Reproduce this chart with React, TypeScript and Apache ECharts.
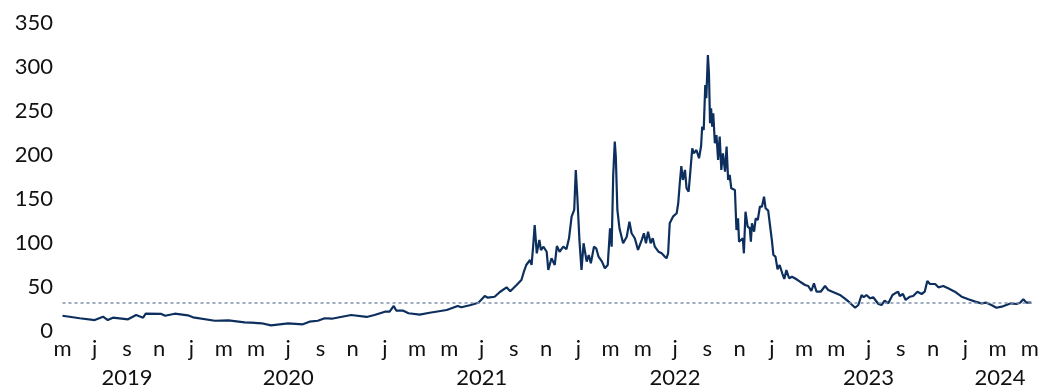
import React, { useEffect, useRef } from "react";
import * as echarts from "echarts";

const dates: string[] = [
  "2019-05-01","2019-06-03","2019-07-01","2019-07-17","2019-07-26","2019-08-05","2019-09-03","2019-09-18","2019-10-01","2019-10-06",
  "2019-11-05","2019-11-12","2019-11-30","2019-12-25","2020-01-04","2020-02-14","2020-03-10","2020-04-10","2020-05-12","2020-05-30",
  "2020-07-01","2020-07-29","2020-08-11","2020-08-27","2020-09-09","2020-09-22","2020-10-29","2020-11-27","2020-12-12","2021-01-01",
  "2021-01-10","2021-01-18","2021-01-23","2021-02-05","2021-02-14","2021-03-06","2021-03-25","2021-04-26","2021-05-17","2021-05-24",
  "2021-06-09","2021-06-25","2021-07-07","2021-07-13","2021-07-26","2021-08-05","2021-08-18","2021-08-25","2021-09-06","2021-09-15",
  "2021-09-19","2021-09-24","2021-10-01","2021-10-04","2021-10-07","2021-10-10","2021-10-14","2021-10-19","2021-10-22","2021-10-27",
  "2021-11-02","2021-11-05","2021-11-11","2021-11-17","2021-11-21","2021-11-26","2021-12-03","2021-12-09","2021-12-14","2021-12-19",
  "2021-12-24","2021-12-27","2021-12-30","2022-01-03","2022-01-07","2022-01-11","2022-01-17","2022-01-21","2022-01-25","2022-01-31",
  "2022-02-04","2022-02-08","2022-02-14","2022-02-19","2022-02-24","2022-02-28","2022-03-03","2022-03-06","2022-03-09","2022-03-11",
  "2022-03-14","2022-03-18","2022-03-25","2022-04-01","2022-04-06","2022-04-10","2022-04-16","2022-04-22","2022-04-29","2022-05-03",
  "2022-05-07","2022-05-11","2022-05-16","2022-05-20","2022-05-24","2022-05-31","2022-06-06","2022-06-12","2022-06-15","2022-06-18",
  "2022-06-21","2022-06-27","2022-07-04","2022-07-07","2022-07-10","2022-07-13","2022-07-16","2022-07-20","2022-07-23","2022-07-27",
  "2022-07-30","2022-08-03","2022-08-06","2022-08-11","2022-08-16","2022-08-20","2022-08-22","2022-08-25","2022-08-28","2022-08-30",
  "2022-09-02","2022-09-04","2022-09-06","2022-09-08","2022-09-10","2022-09-12","2022-09-15","2022-09-18","2022-09-21","2022-09-24",
  "2022-09-27","2022-09-30","2022-10-04","2022-10-07","2022-10-10","2022-10-13","2022-10-16","2022-10-23","2022-10-26","2022-10-29",
  "2022-10-31","2022-11-07","2022-11-09","2022-11-12","2022-11-16","2022-11-20","2022-11-22","2022-11-24","2022-11-28","2022-12-01",
  "2022-12-05","2022-12-09","2022-12-13","2022-12-17","2022-12-20","2022-12-25","2022-12-28","2023-01-01","2023-01-04","2023-01-08",
  "2023-01-12","2023-01-16","2023-01-21","2023-01-25","2023-01-29","2023-02-03","2023-02-08","2023-02-13","2023-02-22","2023-03-03",
  "2023-03-09","2023-03-15","2023-03-20","2023-03-25","2023-04-02","2023-04-10","2023-04-16","2023-04-28","2023-05-08","2023-05-17",
  "2023-05-27","2023-06-06","2023-06-12","2023-06-18","2023-06-22","2023-06-27","2023-07-04","2023-07-10","2023-07-20","2023-07-26",
  "2023-08-01","2023-08-08","2023-08-16","2023-08-21","2023-08-27","2023-08-30","2023-09-05","2023-09-10","2023-09-18","2023-09-24",
  "2023-10-02","2023-10-10","2023-10-16","2023-10-21","2023-10-26","2023-11-05","2023-11-11","2023-11-20","2023-11-29","2023-12-12",
  "2023-12-25","2024-01-07","2024-01-20","2024-02-01","2024-02-10","2024-02-19","2024-02-28","2024-03-09","2024-03-18","2024-03-27",
  "2024-04-06","2024-04-13","2024-04-19","2024-04-25","2024-05-04"
];

const prices: number[] = [
  15.1,12.2,10.2,14.0,10.2,12.9,11.0,15.9,12.9,17.4,
  17.1,15.1,17.4,15.6,13.3,9.4,9.9,7.6,6.5,4.2,
  6.5,5.3,8.3,9.4,12.2,11.7,15.9,13.7,15.9,19.7,
  19.7,26.2,20.8,20.8,17.9,16.3,18.5,21.6,26.2,24.7,
  27.0,29.9,37.5,35.6,36.7,42.1,47.4,42.9,50.1,55.7,
  64.0,72.8,78.5,72.8,93.6,118.3,86.1,101.3,89.9,93.6,
  87.9,67.1,80.4,72.8,94.4,87.9,93.6,90.7,103.2,127.8,
  135.4,180.9,150.5,101.3,67.1,97.5,76.6,84.2,74.7,93.6,
  91.8,82.3,76.6,69.1,72.8,114.6,93.6,175.2,213.1,196.0,
  135.4,114.6,97.5,105.0,122.1,108.9,103.2,89.9,101.3,108.9,
  97.5,110.7,97.5,103.2,93.6,87.9,86.1,82.3,80.4,86.1,
  120.3,127.8,131.6,143.0,165.8,185.4,169.5,180.9,160.1,156.2,
  177.1,205.6,199.9,203.6,194.2,208.2,230.1,226.4,277.6,262.5,
  311.7,290.9,234.0,251.1,230.1,245.4,211.3,220.7,192.3,218.8,
  180.9,199.9,179.0,207.4,169.5,175.2,160.1,158.1,112.6,125.9,
  99.3,103.2,86.1,133.4,116.4,114.6,99.3,120.3,110.7,125.9,
  124.0,139.1,139.1,150.5,137.3,134.6,120.3,101.3,84.2,82.3,
  67.9,72.8,63.4,56.9,67.1,57.7,59.5,57.7,53.8,50.1,
  48.9,43.2,52.0,42.4,42.4,48.9,44.4,41.3,38.7,34.9,
  29.9,24.2,27.3,38.7,36.1,38.7,34.9,36.1,28.4,27.3,
  32.2,29.2,38.7,40.6,42.4,37.5,39.8,33.0,36.7,37.5,
  42.4,39.8,42.4,54.6,51.2,51.2,47.4,48.9,46.3,42.4,
  36.7,33.8,31.1,29.2,29.9,27.3,24.2,25.4,27.3,29.2,
  28.4,29.9,33.8,29.9,29.9
];

const referenceLevel = 30;
const monthInitials: string[] = ["j", "f", "m", "a", "m", "j", "j", "a", "s", "o", "n", "d"];
const startYear = 2019;
const startMonth = 5; // May
const axisEndMonths = 60.3;
const yTicks = { min: 0, max: 350, interval: 50 };

function toMonths(s: string): number {
  const [y, m, d] = s.split("-").map(Number);
  const dim = new Date(y, m, 0).getDate();
  return (y - startYear) * 12 + (m - startMonth) + (d - 1) / dim;
}

function yearCenters(): number[] {
  const out: number[] = [];
  for (let yr = startYear; ; yr++) {
    const s = Math.max(0, (yr - startYear) * 12 - (startMonth - 1));
    const e = Math.min(axisEndMonths, (yr - startYear + 1) * 12 - (startMonth - 1));
    if (s >= axisEndMonths) break;
    out.push((s + e) / 2);
  }
  return out;
}

export default function App() {
  const ref = useRef<HTMLDivElement>(null);
  useEffect(() => {
    if (!ref.current) return;
    const chart = echarts.init(ref.current, null, { renderer: "svg" });
    const data = dates.map((d, i) => [toMonths(d), prices[i]]);
    const font = "Lato";
    chart.setOption({
      animation: false,
      grid: { left: 62.5, right: 16.4, top: 21.3, bottom: 60, containLabel: false },
      xAxis: [
        {
          type: "value",
          min: 0,
          max: axisEndMonths,
          interval: 2,
          position: "bottom",
          axisLine: { show: false },
          axisTick: { show: false },
          splitLine: { show: false },
          axisLabel: {
            margin: 8,
            fontFamily: font,
            fontSize: 22,
            lineHeight: 20,
            color: "#111",
            showMaxLabel: false,
            formatter: (v: number) => {
              if (Math.abs(v - Math.round(v)) > 1e-6) return "";
              const idx = (((startMonth - 1 + Math.round(v)) % 12) + 12) % 12;
              return monthInitials[idx];
            },
          },
        },
        {
          type: "value",
          min: 0,
          max: axisEndMonths,
          position: "bottom",
          axisLine: { show: false },
          axisTick: { show: false },
          splitLine: { show: false },
          axisLabel: {
            margin: 38,
            fontFamily: font,
            fontSize: 22,
            lineHeight: 18,
            color: "#111",
            customValues: yearCenters(),
            formatter: (v: number) => String(startYear + Math.floor((v + startMonth - 1) / 12)),
          },
        },
      ],
      yAxis: {
        type: "value",
        min: yTicks.min,
        max: yTicks.max,
        interval: yTicks.interval,
        axisLine: { show: false },
        axisTick: { show: false },
        splitLine: { show: false },
        axisLabel: { margin: 9.5, fontFamily: font, fontSize: 22, color: "#111" },
      },
      series: [
        {
          type: "line",
          xAxisIndex: 0,
          data,
          showSymbol: false,
          symbol: "none",
          lineStyle: { color: "#0c2f5e", width: 2.2 },
          markLine: {
            silent: true,
            symbol: "none",
            label: { show: false },
            lineStyle: { color: "#7f91ad", type: [3, 3], width: 1.5 },
            data: [{ yAxis: referenceLevel }],
          },
          z: 3,
        },
      ],
    });
    return () => chart.dispose();
  }, []);
  return <div ref={ref} style={{ position: "fixed", left: 0, top: 0, width: 1051, height: 389 }} />;
}
